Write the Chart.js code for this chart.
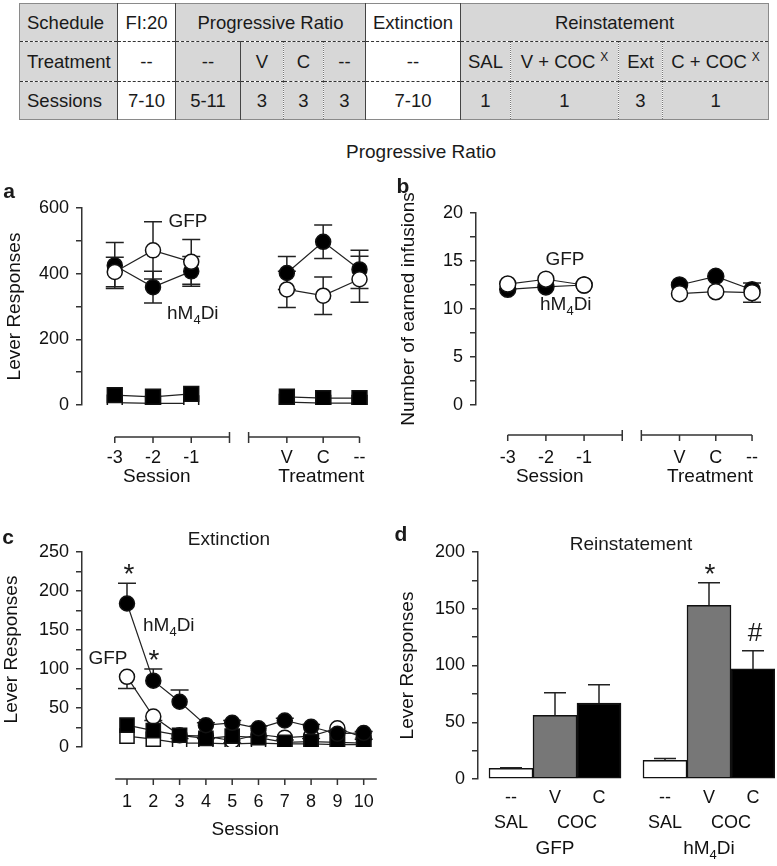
<!DOCTYPE html>
<html>
<head>
<meta charset="utf-8">
<script src="https://cdn.jsdelivr.net/npm/chart.js@4.4.1/dist/chart.umd.min.js"></script>
<style>
body{margin:0;background:#fff;font-family:'Liberation Sans',Arial,Helvetica,sans-serif;color:#1a1a1a}
#page{position:relative;width:777px;height:866px;overflow:hidden}
#sched{position:absolute;left:19px;top:3px;width:749px;border-collapse:collapse;table-layout:fixed;font-size:18.5px;border:1.5px solid #8a8a8a}
#sched td{background:#d7d7d7;text-align:center;padding:0;white-space:nowrap;overflow:hidden}
#sched td.w{background:#fff}
#sched td.lab{text-align:left;padding-left:7px}
#sched tr.r1 td{height:37px;border-bottom:1.5px dashed #333}
#sched tr.r2 td{height:39px;border-bottom:1.5px dashed #333}
#sched tr.r3 td{height:37px}
#sched td.s{border-left:1.5px solid #444}
#sched td.d{border-left:1px dotted #777}
#sched sup{font-size:12px;vertical-align:7px;margin-left:5px}
.box{position:absolute}
.t{position:absolute;white-space:nowrap;line-height:1;font-size:19px}
.c{transform:translate(-50%,-50%)}
.m{transform:translate(0,-50%)}
.t sub{font-size:13px;vertical-align:-5px;line-height:0}
.pl{font-weight:bold;font-size:21px}
.star{font-size:28px}
</style>
</head>
<body>
<div id="page">

<table id="sched">
<colgroup>
<col style="width:98px"><col style="width:58px"><col style="width:65px"><col style="width:43px"><col style="width:40px"><col style="width:42px"><col style="width:95px"><col style="width:50px"><col style="width:108px"><col style="width:44px"><col style="width:106px">
</colgroup>
<tr class="r1"><td class="lab">Schedule</td><td class="w s">FI:20</td><td class="s" colspan="4">Progressive Ratio</td><td class="w s">Extinction</td><td class="s" colspan="4">Reinstatement</td></tr>
<tr class="r2"><td class="lab">Treatment</td><td class="w s">--</td><td class="s">--</td><td class="s">V</td><td class="d">C</td><td class="d">--</td><td class="w s">--</td><td class="s">SAL</td><td class="d">V + COC<sup>X</sup></td><td class="d">Ext</td><td class="d">C + COC<sup>X</sup></td></tr>
<tr class="r3"><td class="lab">Sessions</td><td class="w s">7-10</td><td class="s">5-11</td><td class="s">3</td><td class="d">3</td><td class="d">3</td><td class="w s">7-10</td><td class="s">1</td><td class="d">1</td><td class="d">3</td><td class="d">1</td></tr>
</table>

<div class="t c" style="left:421px;top:151px">Progressive Ratio</div>

<div class="box" style="left:0;top:170px"><canvas id="chartA" width="385" height="320"></canvas></div>
<div class="box" style="left:390px;top:170px"><canvas id="chartB" width="387" height="320"></canvas></div>
<div class="box" style="left:0;top:520px"><canvas id="chartC" width="390" height="346"></canvas></div>
<div class="box" style="left:390px;top:520px"><canvas id="chartD" width="387" height="346"></canvas></div>

<div class="t pl c" style="left:9px;top:190px">a</div>
<div class="t pl c" style="left:403px;top:185px">b</div>
<div class="t pl c" style="left:8px;top:536px">c</div>
<div class="t pl c" style="left:401px;top:533px">d</div>

<div class="t c" style="left:188px;top:220px">GFP</div>
<div class="t m" style="left:167px;top:312px">hM<sub>4</sub>Di</div>
<div class="t c" style="left:565px;top:258px">GFP</div>
<div class="t m" style="left:540px;top:303px">hM<sub>4</sub>Di</div>

<div class="t c" style="left:229px;top:538px">Extinction</div>
<div class="t m" style="left:143px;top:624px">hM<sub>4</sub>Di</div>
<div class="t c" style="left:108px;top:657px">GFP</div>
<div class="t c star" style="left:129px;top:574px">*</div>
<div class="t c star" style="left:154px;top:660px">*</div>

<div class="t c" style="left:631px;top:543px">Reinstatement</div>
<div class="t c star" style="left:710px;top:574px">*</div>
<div class="t c" style="left:755px;top:632px;font-size:26px">#</div>

</div>

<script>
var FONT = "'Liberation Sans', Arial, Helvetica, sans-serif";

// ---- values ----
var sessLabels = ['-3', '-2', '-1'];
var treatLabels = ['V', 'C', '--'];
var sessX = [0, 1, 2];
var treatX = [4.5, 5.45, 6.4];

// a: lever responses, progressive ratio
var aHmActive = [425, 359, 407, 402, 497, 413];
var aHmActiveErr = [70, 48, 45, 50, 51, 58];
var aGfpActive = [405, 471, 436, 352, 333, 383];
var aGfpActiveErr = [45, 87, 68, 55, 57, 70];
var aHmInactive = [30, 25, 34, 25, 21, 21];
var aGfpInactive = [7, 5, 5, 9, 6, 6];

// b: earned infusions
var bHm = [12.05, 12.3, 12.5, 12.5, 13.4, 12.0];
var bGfp = [12.6, 13.1, 12.5, 11.6, 11.8, 11.7];
var bGfpErr = [0, 0, 0, 0, 0, 1.0];

// c: extinction
var cSessions = [1, 2, 3, 4, 5, 6, 7, 8, 9, 10];
var cHmActive = [184, 85, 58, 28, 31, 24, 34, 26, 17, 18];
var cHmActiveErr = [26, 15, 15, 3, 3, 3, 3, 3, 2, 2];
var cGfpActive = [90, 39, 15, 14, 8, 16, 12, 14, 24, 12];
var cGfpActiveErr = [15, 5, 4, 3, 3, 3, 3, 3, 3, 2];
var cHmInactive = [28, 21, 15, 11, 14, 12, 6, 7, 6, 5];
var cGfpInactive = [14, 10, 5, 5, 4, 5, 4, 4, 3, 3];

// d: reinstatement
var dBarLabels = ['--', 'V', 'C'];
var dPrimeLabels = ['SAL', 'COC'];
var dGroups = ['GFP', 'hM4Di'];
var dX = [0, 1, 2, 3.5, 4.5, 5.5];
var dGfp = [9.5, 56, 67];
var dGfpErr = [0.5, 20, 16];
var dHm = [16.5, 153, 97];
var dHmErr = [1.5, 20, 16];


// session points, a gap, then treatment points
function prPts(vals) {
  var xs = sessX.concat([3], treatX);
  var ys = vals.slice(0, 3).concat([null], vals.slice(3));
  return xs.map(function (x, i) { return {x: x, y: ys[i]}; });
}
function prErr(e) { return e.slice(0, 3).concat([0], e.slice(3)); }
function pts(xs, ys) { return xs.map(function (x, i) { return {x: x, y: ys[i]}; }); }

function lineSet(data, style, fill, r, order, err, dir) {
  return {
    data: data, borderColor: '#222', borderWidth: 1.2,
    pointStyle: style, pointRadius: r, pointBackgroundColor: fill,
    pointBorderColor: '#111', pointBorderWidth: 1.5,
    order: order, err: err, errDir: dir
  };
}

function yAxis(max, step, major, title, width, tpad) {
  return {
    min: 0, max: max,
    afterFit: function (s) { s.width = width; },
    border: {color: '#333', width: 1.5},
    grid: {drawOnChartArea: false, tickLength: 6, color: '#333', lineWidth: 1.5},
    ticks: {
      stepSize: step, autoSkip: false, padding: 7, color: '#111',
      font: {size: 18, family: FONT},
      callback: function (v) { return Math.abs(v % major) < 1e-6 ? v : ''; }
    },
    title: {display: true, text: title, color: '#111', font: {size: 19, family: FONT}, padding: {top: tpad, bottom: 0}}
  };
}

function drawErr(chart) {
  var ctx = chart.ctx, ys = chart.scales.y;
  var cap = chart.config.type === 'bar' ? 11 : 9;
  ctx.save();
  ctx.strokeStyle = '#222';
  ctx.lineWidth = 1.5;
  chart.data.datasets.forEach(function (ds, i) {
    if (!ds.err) return;
    var meta = chart.getDatasetMeta(i);
    ds.data.forEach(function (p, j) {
      var e = ds.err[j];
      if (!e || p.y === null) return;
      var x = meta.data[j].x;
      var top = ys.getPixelForValue(p.y + (ds.errDir === 'down' ? 0 : e));
      var bot = ys.getPixelForValue(p.y - (ds.errDir === 'up' ? 0 : e));
      ctx.beginPath();
      ctx.moveTo(x, top); ctx.lineTo(x, bot);
      if (ds.errDir !== 'down') { ctx.moveTo(x - cap, top); ctx.lineTo(x + cap, top); }
      if (ds.errDir !== 'up') { ctx.moveTo(x - cap, bot); ctx.lineTo(x + cap, bot); }
      ctx.stroke();
    });
  });
  ctx.restore();
}

var errBars = {
  id: 'errBars',
  beforeDatasetsDraw: function (chart) { if (chart.config.type !== 'bar') drawErr(chart); },
  afterDatasetsDraw: function (chart) { if (chart.config.type === 'bar') drawErr(chart); }
};

// broken x axis drawn below the plot, placed with the x scale
var segAxis = {
  id: 'segAxis',
  afterDraw: function (chart, args, o) {
    if (!o.segments) return;
    var ctx = chart.ctx, xs = chart.scales.x;
    ctx.save();
    ctx.strokeStyle = '#333';
    ctx.lineWidth = 1.5;
    ctx.beginPath();
    o.segments.forEach(function (s) {
      ctx.moveTo(xs.getPixelForValue(s[0]), o.y);
      ctx.lineTo(xs.getPixelForValue(s[1]), o.y);
    });
    o.ends.forEach(function (v) {
      var x = xs.getPixelForValue(v);
      ctx.moveTo(x, o.y - 5); ctx.lineTo(x, o.y + 6);
    });
    o.ticks.forEach(function (v) {
      var x = xs.getPixelForValue(v);
      ctx.moveTo(x, o.y); ctx.lineTo(x, o.y + 6);
    });
    ctx.stroke();
    ctx.fillStyle = '#111';
    ctx.textAlign = 'center';
    ctx.textBaseline = 'middle';
    ctx.font = '18px ' + FONT;
    o.ticks.forEach(function (v, i) { ctx.fillText(o.labels[i], xs.getPixelForValue(v), o.labelY); });
    ctx.font = '19px ' + FONT;
    o.titles.forEach(function (t, i) { ctx.fillText(t, xs.getPixelForValue(o.titleAt[i]), o.titleY); });
    ctx.restore();
  }
};

function drawHm(ctx, cx, y) {
  ctx.font = '19px ' + FONT;
  var w1 = ctx.measureText('hM').width, w3 = ctx.measureText('Di').width;
  ctx.font = '13px ' + FONT;
  var w2 = ctx.measureText('4').width;
  var x = cx - (w1 + w2 + w3) / 2;
  ctx.textAlign = 'left';
  ctx.font = '19px ' + FONT;
  ctx.fillText('hM', x, y);
  ctx.font = '13px ' + FONT;
  ctx.fillText('4', x + w1, y + 6);
  ctx.font = '19px ' + FONT;
  ctx.fillText('Di', x + w1 + w2, y);
}

// category text under the bars of d
var barText = {
  id: 'barText',
  afterDraw: function (chart, args, o) {
    if (!o.rows) return;
    var ctx = chart.ctx, xs = chart.scales.x;
    ctx.save();
    ctx.fillStyle = '#111';
    ctx.textAlign = 'center';
    ctx.textBaseline = 'middle';
    ctx.font = '18px ' + FONT;
    dX.forEach(function (v, i) { ctx.fillText(dBarLabels[i % 3], xs.getPixelForValue(v), o.rows[0]); });
    [0, 3].forEach(function (k) {
      ctx.fillText(dPrimeLabels[0], xs.getPixelForValue(dX[k]), o.rows[1]);
      ctx.fillText(dPrimeLabels[1], xs.getPixelForValue((dX[k + 1] + dX[k + 2]) / 2), o.rows[1]);
    });
    ctx.font = '19px ' + FONT;
    var g1 = xs.getPixelForValue((dX[0] + dX[2]) / 2);
    var g2 = xs.getPixelForValue((dX[3] + dX[5]) / 2);
    ctx.fillText(dGroups[0], g1, o.rows[2]);
    drawHm(ctx, g2, o.rows[2]);
    ctx.restore();
  }
};

var common = {
  responsive: false, animation: false, events: [], devicePixelRatio: 1
};


// ---- a ----
var ctxA = document.getElementById('chartA').getContext('2d');
var chartA = new Chart(ctxA, {
  type: 'line',
  data: {
    datasets: [
      lineSet(prPts(aGfpActive), 'circle', '#fff', 7.5, 1, prErr(aGfpActiveErr), 'both'),
      lineSet(prPts(aHmActive), 'circle', '#000', 7.5, 2, prErr(aHmActiveErr), 'both'),
      lineSet(prPts(aHmInactive), 'rect', '#000', 10.5, 3),
      lineSet(prPts(aGfpInactive), 'rect', '#fff', 10.5, 4)
    ]
  },
  options: Object.assign({}, common, {
    layout: {padding: {left: 0, top: 38, right: 10, bottom: 85}},
    scales: {
      x: {type: 'linear', min: -0.857, max: 6.753, display: false},
      y: yAxis(600, 100, 200, 'Lever Responses', 82, 3)
    },
    plugins: {
      legend: {display: false}, tooltip: {enabled: false},
      segAxis: {
        y: 267, labelY: 288, titleY: 307,
        segments: [[0, 3], [3.5, treatX[2]]], ends: [3, 3.5],
        ticks: sessX.concat(treatX), labels: sessLabels.concat(treatLabels),
        titles: ['Session', 'Treatment'], titleAt: [1.1, 5.4]
      }
    }
  }),
  plugins: [errBars, segAxis]
});

// ---- b ----
var ctxB = document.getElementById('chartB').getContext('2d');
var chartB = new Chart(ctxB, {
  type: 'line',
  data: {
    datasets: [
      lineSet(prPts(bGfp), 'circle', '#fff', 8, 1, prErr(bGfpErr), 'both'),
      lineSet(prPts(bHm), 'circle', '#000', 8, 2)
    ]
  },
  options: Object.assign({}, common, {
    layout: {padding: {left: 0, top: 43, right: 7, bottom: 85}},
    scales: {
      x: {type: 'linear', min: -0.831, max: 6.805, display: false},
      y: yAxis(20, 2.5, 5, 'Number of earned infusions', 86, 7)
    },
    plugins: {
      legend: {display: false}, tooltip: {enabled: false},
      segAxis: {
        y: 265, labelY: 288, titleY: 307,
        segments: [[0, 3], [3.5, treatX[2]]], ends: [3, 3.5],
        ticks: sessX.concat(treatX), labels: sessLabels.concat(treatLabels),
        titles: ['Session', 'Treatment'], titleAt: [1.1, 5.3]
      }
    }
  }),
  plugins: [errBars, segAxis]
});

// ---- c ----
var ctxC = document.getElementById('chartC').getContext('2d');
var chartC = new Chart(ctxC, {
  type: 'line',
  data: {
    datasets: [
      lineSet(pts(cSessions, cHmActive), 'circle', '#000', 7.5, 1, cHmActiveErr, 'up'),
      lineSet(pts(cSessions, cHmInactive), 'rect', '#000', 10, 2),
      lineSet(pts(cSessions, cGfpActive), 'circle', '#fff', 7.5, 3, cGfpActiveErr, 'down'),
      lineSet(pts(cSessions, cGfpInactive), 'rect', '#fff', 10, 4)
    ]
  },
  options: Object.assign({}, common, {
    layout: {padding: {left: 0, top: 32, right: 13, bottom: 119}},
    scales: {
      x: {type: 'linear', min: -0.711, max: 10.506, display: false},
      y: yAxis(250, 25, 50, 'Lever Responses', 82, 0)
    },
    plugins: {
      legend: {display: false}, tooltip: {enabled: false},
      segAxis: {
        y: 259, labelY: 282, titleY: 310,
        segments: [[0.55, 10.5]], ends: [],
        ticks: cSessions, labels: cSessions.map(String),
        titles: ['Session'], titleAt: [5.5]
      }
    }
  }),
  plugins: [errBars, segAxis]
});

// ---- d ----
var ctxD = document.getElementById('chartD').getContext('2d');
var chartD = new Chart(ctxD, {
  type: 'bar',
  data: {
    datasets: [{
      data: pts(dX, dGfp.concat(dHm)),
      backgroundColor: ['#fff', '#777', '#000', '#fff', '#777', '#000'],
      borderColor: '#111', borderWidth: 1.5, borderSkipped: false,
      barThickness: 44,
      err: dGfpErr.concat(dHmErr), errDir: 'up'
    }]
  },
  options: Object.assign({}, common, {
    layout: {padding: {left: 0, top: 32, right: 2, bottom: 87}},
    scales: {
      x: {type: 'linear', min: -0.75, max: 6.0, offset: false, display: false},
      y: yAxis(200, 25, 50, 'Lever Responses', 88, 6)
    },
    plugins: {
      legend: {display: false}, tooltip: {enabled: false},
      barText: {rows: [278, 303, 329]}
    }
  }),
  plugins: [errBars, barText]
});
</script>
</body>
</html>
